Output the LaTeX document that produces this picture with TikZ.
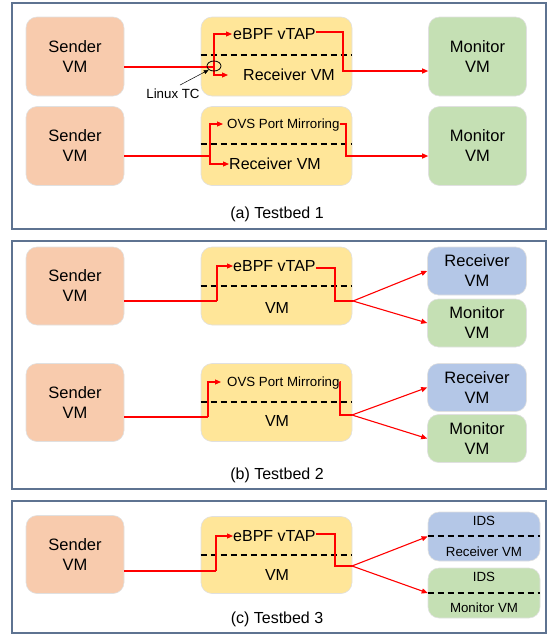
\documentclass[tikz,border=0pt]{standalone}
\usepackage{fontspec}
\setmainfont{Liberation Sans}
\usetikzlibrary{arrows.meta,shapes.geometric}
\definecolor{senderc}{HTML}{F8CBAD}
\definecolor{tapc}{HTML}{FFE699}
\definecolor{monc}{HTML}{C5E0B4}
\definecolor{rcvc}{HTML}{B4C7E7}
\definecolor{framec}{HTML}{5E7391}
\begin{document}
\begin{tikzpicture}[x=1pt,y=-1pt,
    panel/.style={draw=framec,line width=1.4pt},
    box/.style={rounded corners=11pt,draw=black!12,line width=0.6pt,minimum width=98pt,minimum height=79pt,
        align=center,inner sep=0pt,font=\fontsize{16.5}{20}\selectfont},
    midbox/.style={box,fill=tapc,minimum width=151pt},
    endbox/.style={box,minimum width=99pt,minimum height=48pt},
    txt/.style={inner sep=0pt,text height=11.5pt,text depth=0pt,font=\fontsize{16}{19}\selectfont},
    small/.style={inner sep=0pt,text height=9.5pt,text depth=0pt,font=\fontsize{13.3}{16}\selectfont},
    flow/.style={draw=red,line width=1.1pt},
    arr/.style={-{Triangle[length=6pt,width=5pt]}},
    divider/.style={dash pattern=on 6pt off 4pt,line width=1.5pt}]
    \useasboundingbox (0,0) rectangle (550,635);
    \draw[panel] (12,3) rectangle (546,229);
    \draw[panel] (12,241) rectangle (546,489);
    \draw[panel] (12,501) rectangle (546,633);

    % testbed 1
    \node[box,fill=senderc] (s1) at (75,56.5) {Sender\\VM};
    \node[midbox] (v1) at (276.5,56.5) {};
    \node[box,fill=monc] (m1) at (477.5,56.5) {Monitor\\VM};
    \node[txt,anchor=west] (tap1) at (233,34) {eBPF vTAP};
    \node[txt,anchor=west] (rcv1) at (243,75) {Receiver VM};
    \draw[divider] ([yshift=1.5pt]v1.west) -- ([yshift=1.5pt]v1.east);
    \coordinate (j1) at (214,67);
    \coordinate (o1) at (343,71);
    \draw[flow] (s1.east |- j1) -- (j1);
    \draw[flow,arr] (j1) |- ([xshift=-1pt]tap1.west);
    \draw[flow,arr] (j1) |- ([xshift=-15pt]rcv1.west);
    \draw[flow,arr] ([yshift=2pt]tap1.east) -| (o1) -- (m1.west |- o1);
    \node[draw,ellipse,minimum width=14pt,minimum height=10pt,inner sep=0pt,line width=0.8pt] (tc) at (214,66) {};
    \node[small] (ltc) at (173,94) {Linux TC};
    \draw[-{Triangle[length=5pt,width=4pt]},line width=0.5pt] ([xshift=7pt,yshift=4pt]ltc.north) -- (tc.south west);

    \node[box,fill=senderc] (s2) at (75,146) {Sender\\VM};
    \node[midbox] (v2) at (276.5,146) {};
    \node[box,fill=monc] (m2) at (477.5,146) {Monitor\\VM};
    \node[small,anchor=west] (tap2) at (227,124) {OVS Port Mirroring};
    \node[txt,anchor=west] (rcv2) at (229,164) {Receiver VM};
    \draw[divider] ([yshift=2pt]v2.west) -- ([yshift=2pt]v2.east);
    \coordinate (j2) at (210,156);
    \coordinate (o2) at (346,156);
    \draw[flow] (s2.east |- j2) -- (j2);
    \draw[flow,arr] (j2) |- ([xshift=-4pt]tap2.west);
    \draw[flow,arr] (j2) |- (rcv2.west);
    \draw[flow,arr] (tap2.east) -| (o2) -- (m2.west |- o2);
    \node[txt] (cap1) at (277,213) {(a) Testbed 1};

    % testbed 2
    \node[box,fill=senderc,minimum height=78pt] (s3) at (75,286) {Sender\\VM};
    \node[midbox,minimum height=78pt] (v3) at (276.5,286) {};
    \node[endbox,fill=rcvc] (r3) at (477,271) {Receiver\\VM};
    \node[endbox,fill=monc] (m3) at (477,323) {Monitor\\VM};
    \node[txt,anchor=west] (tap3) at (233,266) {eBPF vTAP};
    \node[txt] (vm3) at (277,308) {VM};
    \draw[divider] (v3.west) -- (v3.east);
    \coordinate (j3) at (217,301);
    \coordinate (o3) at (335,301);
    \coordinate (f3) at (353,301);
    \draw[flow] (s3.east |- j3) -- (j3);
    \draw[flow,arr] (j3) |- (tap3.west);
    \draw[flow] ([yshift=-2pt]tap3.east) -| (o3) -- (f3);
    \draw[flow,arr] (f3) -- (r3.west);
    \draw[flow,arr] (f3) -- (m3.west);

    \node[box,fill=senderc,minimum height=78pt] (s4) at (75,402.5) {Sender\\VM};
    \node[midbox,minimum height=78pt] (v4) at (276.5,402.5) {};
    \node[endbox,fill=rcvc] (r4) at (477,387.5) {Receiver\\VM};
    \node[endbox,fill=monc] (m4) at (477,438.5) {Monitor\\VM};
    \node[small,anchor=west] (tap4) at (227,382) {OVS Port Mirroring};
    \node[txt] (vm4) at (277,421) {VM};
    \draw[divider] ([yshift=0.5pt]v4.west) -- ([yshift=0.5pt]v4.east);
    \coordinate (j4) at (208,417);
    \coordinate (o4) at (340,415);
    \coordinate (f4) at (352,415);
    \draw[flow] (s4.east |- j4) -- (j4);
    \draw[flow,arr] (j4) |- ([xshift=-6pt]tap4.west);
    \draw[flow] (tap4.east) -| (o4) -- (f4);
    \draw[flow,arr] (f4) -- (r4.west);
    \draw[flow,arr] (f4) -- (m4.west);
    \node[txt] (cap2) at (277,474) {(b) Testbed 2};

    % testbed 3
    \node[box,fill=senderc,minimum height=78pt] (s5) at (75,554.5) {Sender\\VM};
    \node[midbox,minimum height=77pt] (v5) at (276.5,555) {};
    \node[endbox,fill=rcvc,minimum width=112pt,minimum height=49pt] (i1) at (484,536.5) {};
    \node[endbox,fill=monc,minimum width=112pt,minimum height=50pt] (i2) at (484,593) {};
    \node[txt,anchor=west] (tap5) at (233,536) {eBPF vTAP};
    \node[txt] (vm5) at (277,575) {VM};
    \draw[divider] (v5.west) -- (v5.east);
    \draw[divider] ([yshift=0.5pt]i1.west) -- ([yshift=0.5pt]i1.east);
    \draw[divider] (i2.west) -- (i2.east);
    \node[small] (ids1) at (484,521) {IDS};
    \node[small] (rv5) at (484,552) {Receiver VM};
    \node[small] (ids2) at (484,577) {IDS};
    \node[small] (mv5) at (484,608) {Monitor VM};
    \coordinate (j5) at (216,571);
    \coordinate (o5) at (335,566);
    \coordinate (f5) at (352,566);
    \draw[flow] (s5.east |- j5) -- (j5);
    \draw[flow,arr] (j5) |- (tap5.west);
    \draw[flow] ([yshift=2pt]tap5.east) -| (o5) -- (f5);
    \draw[flow,arr] (f5) -- (i1.west);
    \draw[flow,arr] (f5) -- (i2.west);
    \node[txt] (cap3) at (277,618) {(c) Testbed 3};
\end{tikzpicture}
\end{document}
